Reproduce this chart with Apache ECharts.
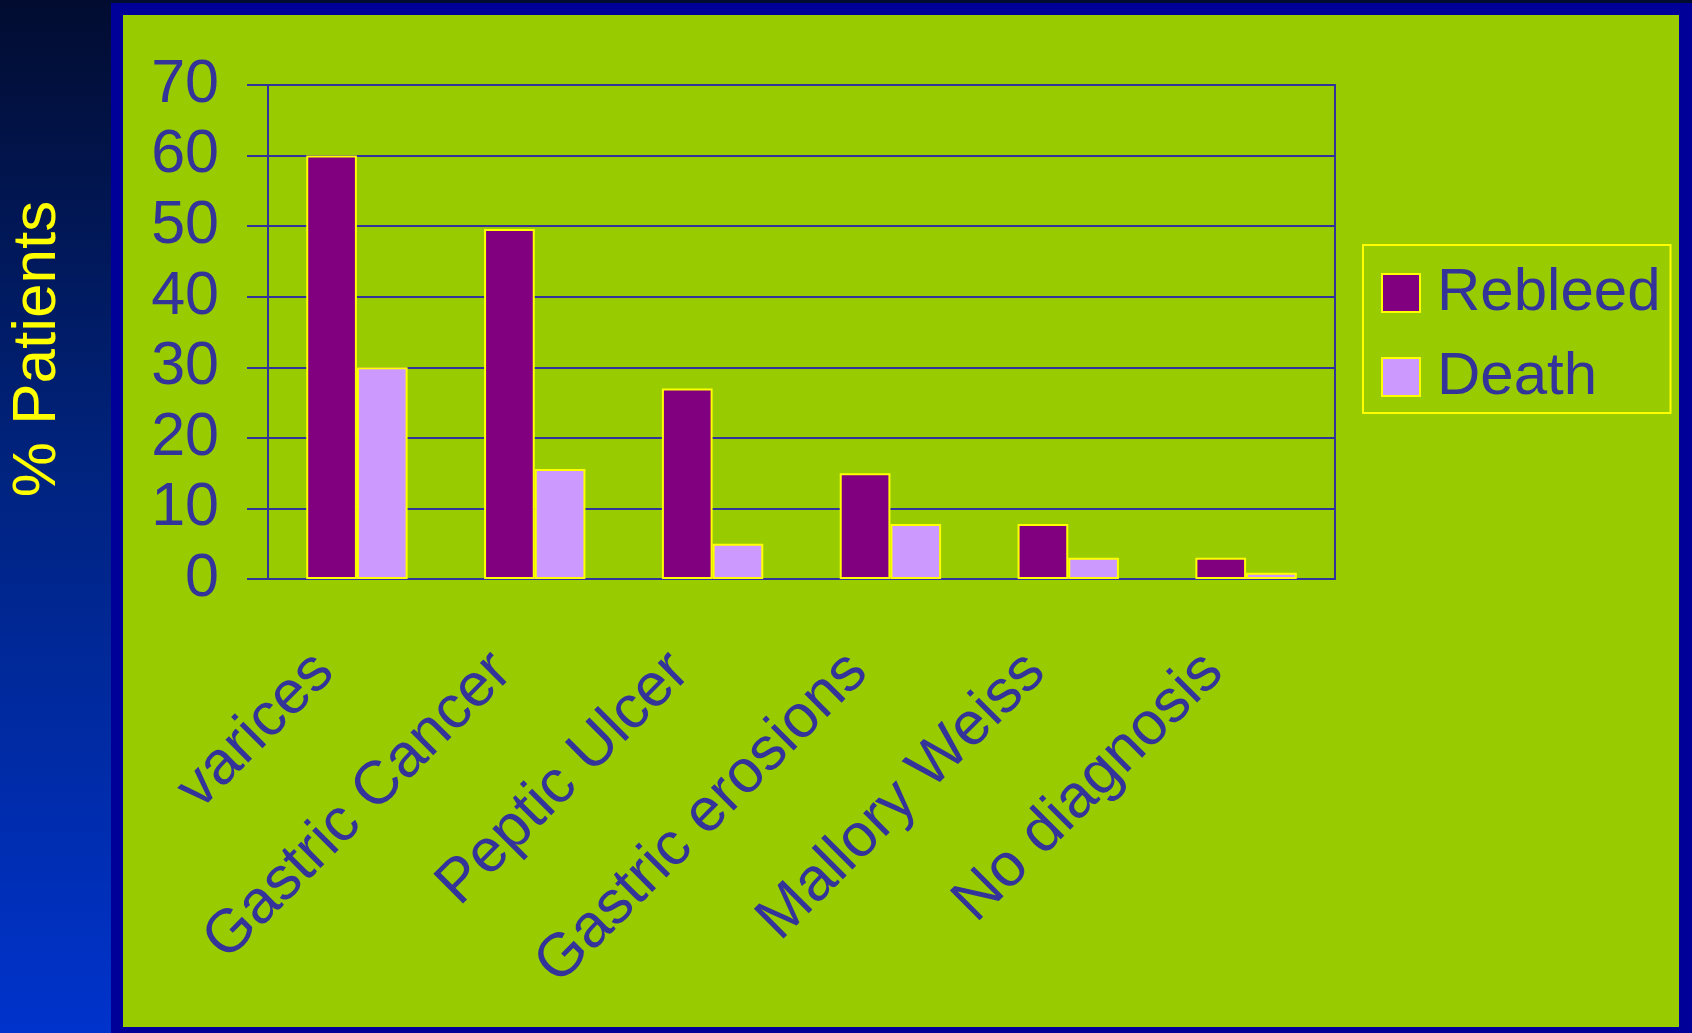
<!DOCTYPE html>
<html>
<head>
<meta charset="utf-8">
<title>Rebleed and death by diagnosis</title>
<script src="https://cdn.jsdelivr.net/npm/echarts@6/dist/echarts.min.js"></script>
<style>
    html, body { margin: 0; padding: 0; }
    #chart { width: 1692px; height: 1033px; }
</style>
</head>
<body>
<div id="chart"></div>
<script>
// data
var categories = ['varices', 'Gastric Cancer', 'Peptic Ulcer', 'Gastric erosions', 'Mallory Weiss', 'No diagnosis'];
var rebleed = [60, 49.6, 27, 15, 7.8, 3];
var death = [30, 15.6, 5, 7.8, 3, 0.9];
var yTicks = {min: 0, max: 70, step: 10};

var ink = '#333399';      // axis + text blue
var font = 'Liberation Sans, Arial, sans-serif';

var myChart = echarts.init(document.getElementById('chart'));
var option = {
    animation: false,
    graphic: [
        {   // dark gradient strip behind everything
            type: 'rect', z: -10, silent: true,
            shape: {x: 0, y: 0, width: 1692, height: 1033},
            style: {
                fill: new echarts.graphic.LinearGradient(0, 0, 0, 1, [
                    {offset: 0, color: '#020c30'},
                    {offset: 0.45, color: '#00237e'},
                    {offset: 1, color: '#0033cc'}
                ])
            }
        },
        {   // navy frame
            type: 'rect', z: -9, silent: true,
            shape: {x: 111, y: 3, width: 1581, height: 1030},
            style: {fill: '#000099'}
        },
        {   // green panel
            type: 'rect', z: -8, silent: true,
            shape: {x: 123, y: 15, width: 1556, height: 1012},
            style: {fill: '#99cc00'}
        },
        {   // y axis title
            type: 'text', z: 10,
            x: 38, y: 349, rotation: Math.PI / 2,
            style: {
                text: '% Patients', fill: '#ffff00',
                font: '62px ' + font,
                align: 'center', verticalAlign: 'middle'
            }
        }
    ],
    grid: {
        left: 268, top: 85, right: 357, bottom: 454,
        show: true, borderColor: ink, borderWidth: 2
    },
    legend: {
        orient: 'vertical',
        left: 1363, top: 245,
        padding: [18, 10, 6, 18],
        itemWidth: 38, itemHeight: 38, itemGap: 24,
        borderColor: '#ffff00', borderWidth: 2,
        icon: 'rect',
        itemStyle: {borderColor: '#ffff00', borderWidth: 2},
        textStyle: {color: ink, fontSize: 60, fontFamily: font, lineHeight: 60, padding: [0, 0, 0, 12]},
        data: ['Rebleed', 'Death']
    },
    xAxis: {
        type: 'category',
        data: categories,
        axisLine: {lineStyle: {color: ink, width: 2}},
        axisTick: {length: 20, lineStyle: {color: ink, width: 2}},
        axisLabel: {
            interval: 0, rotate: 45, margin: 51,
            color: ink, fontSize: 61, fontFamily: font,
            padding: [0, 46, 0, 0]
        }
    },
    yAxis: {
        type: 'value',
        min: yTicks.min, max: yTicks.max, interval: yTicks.step,
        axisLine: {show: true, lineStyle: {color: ink, width: 2}},
        axisTick: {show: true, length: 21, lineStyle: {color: ink, width: 2}},
        splitLine: {lineStyle: {color: ink, width: 2}},
        axisLabel: {margin: 49, color: ink, fontSize: 61, fontFamily: font}
    },
    series: [
        {
            name: 'Rebleed', type: 'bar', data: rebleed,
            barGap: '0%', barCategoryGap: '43%',
            itemStyle: {color: '#800080', borderColor: '#ffff00', borderWidth: 2}
        },
        {
            name: 'Death', type: 'bar', data: death,
            itemStyle: {color: '#cc99ff', borderColor: '#ffff00', borderWidth: 2}
        }
    ]
};
myChart.setOption(option);
</script>
</body>
</html>
